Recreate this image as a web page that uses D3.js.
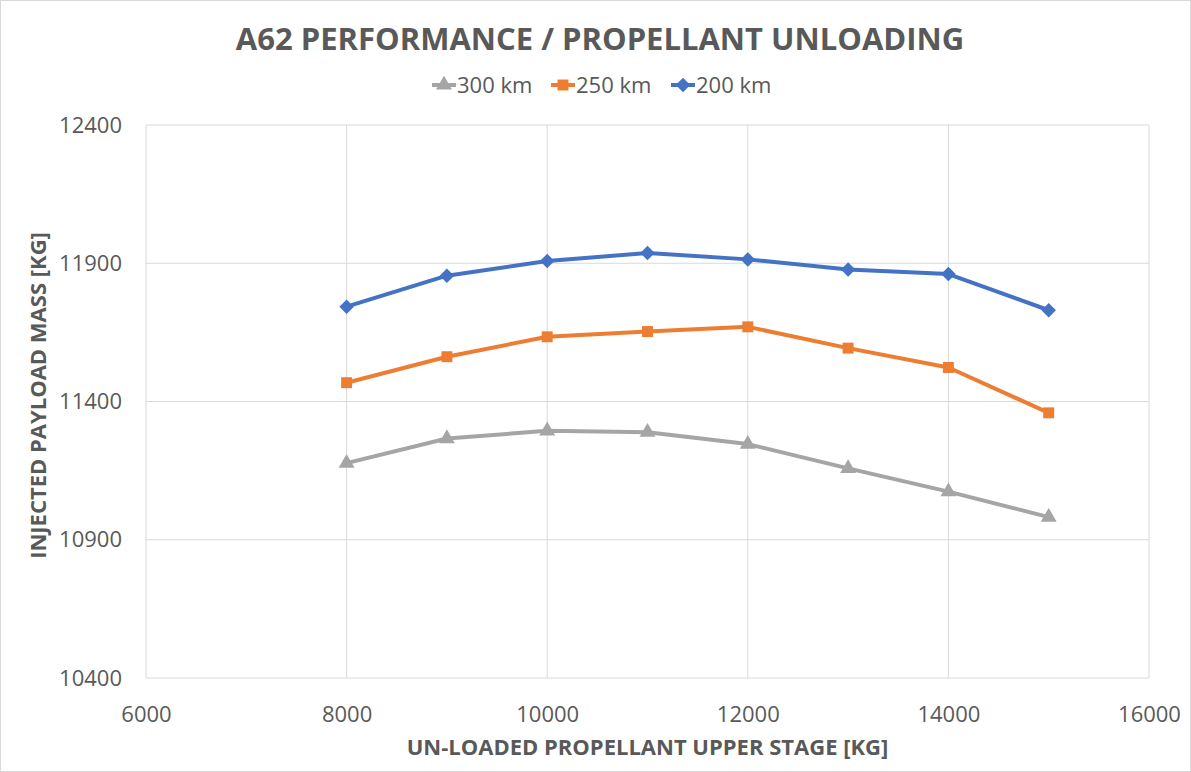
<!DOCTYPE html>
<html>
<head>
<meta charset="utf-8">
<script src="https://cdn.jsdelivr.net/npm/d3@7"></script>
<style>
  body { margin: 0; background: #fff; }
  text { font-family: "Open Sans", "Liberation Sans", sans-serif; fill: #595959; }
</style>
</head>
<body>
<div id="chart"></div>
<script>
var propellant = [8000, 9000, 10000, 11000, 12000, 13000, 14000, 15000];
var km300 = [11177, 11266, 11294, 11289, 11246, 11158, 11074, 10982];
var km250 = [11468, 11562, 11634, 11653, 11670, 11593, 11523, 11359];
var km200 = [11743, 11855, 11908, 11937, 11914, 11877, 11861, 11730];
var xTicks = [6000, 8000, 10000, 12000, 14000, 16000];
var yTicks = [10400, 10900, 11400, 11900, 12400];

var series = [
  { name: "300 km", values: km300, color: "#A5A5A5", symbol: d3.symbolTriangle, size: 110, rot: 0 },
  { name: "250 km", values: km250, color: "#ED7D31", symbol: d3.symbolSquare, size: 120, rot: 0 },
  { name: "200 km", values: km200, color: "#4472C4", symbol: d3.symbolSquare, size: 105, rot: 45 }
];

var W = 1191, H = 772;
var margin = { top: 125, right: 42, bottom: 94, left: 146 },
  width = W - margin.left - margin.right,
  height = H - margin.top - margin.bottom;

var root = d3.select("#chart").append("svg")
  .attr("width", W)
  .attr("height", H);

root.append("rect")
  .attr("x", 0.5).attr("y", 0.5)
  .attr("width", W - 1).attr("height", H - 1)
  .attr("fill", "#fff")
  .attr("stroke", "#d9d9d9");

var svg = root.append("g")
  .attr("transform", "translate(" + margin.left + "," + margin.top + ")");

var x = d3.scaleLinear().domain([6000, 16000]).range([0, width]);
var y = d3.scaleLinear().domain([10400, 12400]).range([height, 0]);

// gridlines
svg.append("g")
  .selectAll("line.h")
  .data(yTicks)
  .enter().append("line")
  .attr("x1", 0).attr("x2", width)
  .attr("y1", function(d) { return y(d); })
  .attr("y2", function(d) { return y(d); })
  .attr("stroke", "#d9d9d9").attr("stroke-width", 1);

svg.append("g")
  .selectAll("line.v")
  .data(xTicks)
  .enter().append("line")
  .attr("y1", 0).attr("y2", height)
  .attr("x1", function(d) { return x(d); })
  .attr("x2", function(d) { return x(d); })
  .attr("stroke", "#d9d9d9").attr("stroke-width", 1);

// axes (labels only)
var xAxis = svg.append("g")
  .attr("transform", "translate(0," + height + ")")
  .call(d3.axisBottom(x).tickValues(xTicks).tickFormat(d3.format("d")).tickSize(0).tickPadding(28));
xAxis.select(".domain").remove();
xAxis.selectAll("text").style("font-size", "22px").attr("fill", "#595959")
  .style("font-family", "'Liberation Sans Narrow', 'Open Sans', sans-serif");

var yAxis = svg.append("g")
  .call(d3.axisLeft(y).tickValues(yTicks).tickFormat(d3.format("d")).tickSize(0).tickPadding(24));
yAxis.select(".domain").remove();
yAxis.selectAll("text").style("font-size", "22px").attr("fill", "#595959");

// lines
var line = d3.line()
  .x(function(d, i) { return x(propellant[i]); })
  .y(function(d) { return y(d); });

series.forEach(function(s) {
  svg.append("path")
    .datum(s.values)
    .attr("fill", "none")
    .attr("stroke", s.color)
    .attr("stroke-width", 4)
    .attr("stroke-linejoin", "round")
    .attr("d", line);

  svg.selectAll(null)
    .data(s.values)
    .enter().append("path")
    .attr("d", d3.symbol().type(s.symbol).size(s.size))
    .attr("transform", function(d, i) {
      return "translate(" + x(propellant[i]) + "," + y(d) + ") rotate(" + s.rot + ")";
    })
    .attr("fill", s.color);
});

// title
root.append("text")
  .attr("x", 600).attr("y", 50)
  .attr("text-anchor", "middle")
  .style("font-size", "31px").style("font-weight", "bold")
  .text("A62 PERFORMANCE / PROPELLANT UNLOADING");

// legend
var legendX = [432, 551, 671];
var legend = root.selectAll("g.legend")
  .data(series)
  .enter().append("g")
  .attr("transform", function(d, i) { return "translate(" + legendX[i] + ",85)"; });

legend.append("line")
  .attr("x1", 0).attr("x2", 24)
  .attr("stroke", function(d) { return d.color; })
  .attr("stroke-width", 4);
legend.append("path")
  .attr("d", function(d) { return d3.symbol().type(d.symbol).size(d.size)(); })
  .attr("transform", function(d) { return "translate(12,0) rotate(" + d.rot + ")"; })
  .attr("fill", function(d) { return d.color; });
legend.append("text")
  .attr("x", 25).attr("dy", "0.35em")
  .style("font-size", "22px")
  .style("font-family", "'Liberation Sans Narrow', 'Open Sans', sans-serif")
  .text(function(d) { return d.name; });

// axis titles
root.append("text")
  .attr("x", margin.left + width / 2).attr("y", 755)
  .attr("text-anchor", "middle")
  .style("font-size", "22px").style("font-weight", "bold")
  .text("UN-LOADED PROPELLANT UPPER STAGE [KG]");

root.append("text")
  .attr("transform", "translate(46," + (margin.top + height / 2 - 6) + ") rotate(-90)")
  .attr("text-anchor", "middle")
  .style("font-size", "22px").style("font-weight", "bold")
  .text("INJECTED PAYLOAD MASS [KG]");
</script>
</body>
</html>
